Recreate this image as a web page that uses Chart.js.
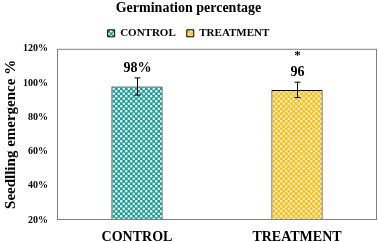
<!DOCTYPE html>
<html>
<head>
<meta charset="utf-8">
<script src="https://cdn.jsdelivr.net/npm/chart.js@4/dist/chart.umd.min.js"></script>
<style>
html, body { margin: 0; padding: 0; background: #fff; }
#wrap { width: 378px; height: 242px; }
</style>
</head>
<body>
<div id="wrap"><canvas id="chart"></canvas></div>
<script>
// values
const categories = ["CONTROL", "TREATMENT"];
const seriesNames = ["CONTROL", "TREATMENT"];
const emergence = [98, 96];
const errors = [5, 4.5];
const valueLabels = ["98%", "96"];
const signif = ["", "*"];
const yTicks = [20, 40, 60, 80, 100, 120];

const serif = "'Liberation Serif', 'Times New Roman', serif";

// dotted checker fill like the original
function makePattern(base) {
	let c = document.createElement("canvas");
	c.width = 5; c.height = 5;
	let g = c.getContext("2d");
	g.fillStyle = base;
	g.fillRect(0, 0, 5, 5);
	g.fillStyle = "#ececec";
	g.beginPath(); g.arc(1.25, 1.25, 1.3, 0, Math.PI * 2); g.fill();
	g.beginPath(); g.arc(3.75, 3.75, 1.3, 0, Math.PI * 2); g.fill();
	return document.getElementById("chart").getContext("2d").createPattern(c, "repeat");
}

const fills = [makePattern("#14a097"), makePattern("#ffc000")];

// one dataset per group so the legend shows both, bars kept in their own slot
let datasets = [];
for (let i = 0; i < seriesNames.length; i++) {
	let data = categories.map((c, j) => j === i ? emergence[i] : null);
	datasets.push({
		label: seriesNames[i],
		data: data,
		backgroundColor: fills[i],
		borderColor: "#000",
		borderWidth: 1,
		barPercentage: 0.32,
		categoryPercentage: 1,
		grouped: false
	});
}

// frame, error bars and labels
const extras = {
	id: "extras",
	afterDatasetsDraw(chart) {
		let ctx = chart.ctx;
		let a = chart.chartArea;
		let y = chart.scales.y;
		ctx.save();
		ctx.strokeStyle = "#808080";
		ctx.lineWidth = 1;
		ctx.strokeRect(a.left + 0.5, a.top + 0.5, a.right - a.left - 1, a.bottom - a.top - 1);

		for (let i = 0; i < emergence.length; i++) {
			let bar = chart.getDatasetMeta(i).data[i];
			let x = Math.round(bar.x) + 0.5;
			let hi = y.getPixelForValue(emergence[i] + errors[i]);
			let lo = y.getPixelForValue(emergence[i] - errors[i]);
			ctx.strokeStyle = "#000";
			ctx.beginPath();
			ctx.moveTo(x, hi); ctx.lineTo(x, lo);
			ctx.moveTo(x - 3, hi); ctx.lineTo(x + 3, hi);
			ctx.moveTo(x - 3, lo); ctx.lineTo(x + 3, lo);
			ctx.stroke();

			ctx.fillStyle = "#000";
			ctx.textAlign = "center";
			ctx.textBaseline = "alphabetic";
			ctx.font = "bold 14px " + serif;
			ctx.fillText(valueLabels[i], x, hi - 6);
			if (signif[i]) {
				ctx.font = "bold 13px " + serif;
				ctx.fillText(signif[i], x, hi - 23);
			}
		}
		ctx.restore();
	}
};

new Chart(document.getElementById("chart"), {
	type: "bar",
	data: { labels: categories, datasets: datasets },
	options: {
		responsive: true,
		maintainAspectRatio: false,
		animation: false,
		layout: { padding: { top: 0, right: 1, bottom: 0, left: 0 } },
		plugins: {
			title: {
				display: true,
				text: "Germination percentage",
				color: "#000",
				font: { family: serif, size: 14, weight: "bold" },
				padding: { top: 0, bottom: 0 }
			},
			legend: {
				position: "top",
				labels: {
					color: "#000",
					font: { family: serif, size: 11, weight: "bold" },
					boxWidth: 7,
					boxHeight: 7,
					padding: 11
				}
			},
			tooltip: { enabled: false }
		},
		scales: {
			x: {
				afterFit(scale) { scale.height = 22; },
				grid: { display: false, drawTicks: false },
				border: { display: false },
				ticks: {
					color: "#000",
					padding: 9,
					font: { family: serif, size: 14, weight: "bold" }
				}
			},
			y: {
				min: 20,
				max: 120,
				afterFit(scale) { scale.width = 57; },
				afterBuildTicks(scale) {
					scale.ticks = yTicks.map(v => ({ value: v }));
				},
				grid: { display: false, drawTicks: false },
				border: { display: false },
				ticks: {
					color: "#000",
					padding: 9,
					font: { family: serif, size: 10, weight: "bold" },
					callback: v => v + "%"
				},
				title: {
					display: true,
					text: "Seedlling emergence %",
					color: "#000",
					padding: { top: 2, bottom: 0 },
					font: { family: serif, size: 15, weight: "bold" }
				}
			}
		}
	},
	plugins: [extras]
});
</script>
</body>
</html>
